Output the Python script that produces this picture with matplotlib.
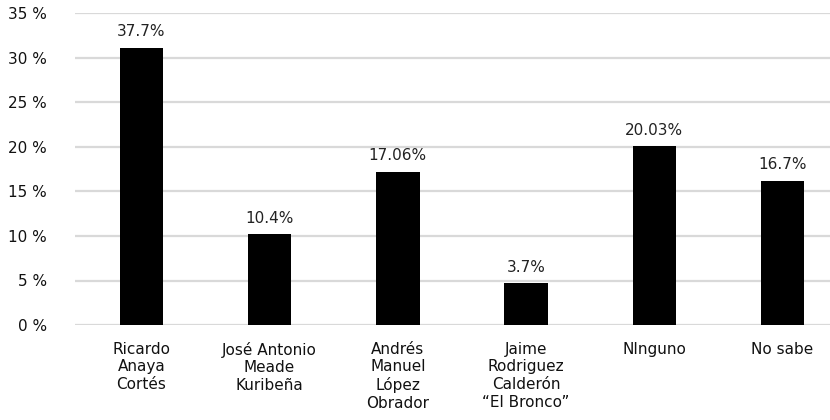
import matplotlib.pyplot as plt

categories = ['Ricardo\nAnaya\nCortés', 'José Antonio\nMeade\nKuribeña',
              'Andrés\nManuel\nLópez\nObrador', 'Jaime\nRodriguez\nCalderón\n“El Bronco”',
              'NInguno', 'No sabe']
heights = [31.1, 10.2, 17.2, 4.7, 20.1, 16.2]
labels = ['37.7%', '10.4%', '17.06%', '3.7%', '20.03%', '16.7%']
yticks = [0, 5, 10, 15, 20, 25, 30, 35]

plt.rcParams['font.family'] = 'DejaVu Sans'

fig = plt.figure(figsize=(8.3, 4.2), dpi=100)
ax = fig.add_axes([0.09, 0.226, 0.91, 0.743])

x = range(len(categories))
bars = ax.bar(x, heights, width=0.34, color='black', zorder=3)
for b, lab in zip(bars, labels):
    ax.annotate(lab, (b.get_x() + b.get_width() / 2, b.get_height()),
                xytext=(0, 6), textcoords='offset points',
                ha='center', va='bottom', fontsize=11, color='#222222')

ax.set_ylim(0, 35)
ax.set_xlim(-0.52, 5.37)
ax.set_yticks(yticks)
ax.set_yticklabels([f'{t} %' for t in yticks])
ax.set_xticks(list(x))
ax.set_xticklabels(categories, fontsize=11, linespacing=1.22, va='top')
ax.tick_params(axis='both', length=0, labelsize=11, colors='#111111')
ax.tick_params(axis='x', pad=12)
ax.tick_params(axis='y', pad=20)
ax.grid(axis='y', color='#d9d9d9', linewidth=1.6, zorder=0)
for s in ax.spines.values():
    s.set_visible(False)

fig.savefig('out.png', dpi=100)
